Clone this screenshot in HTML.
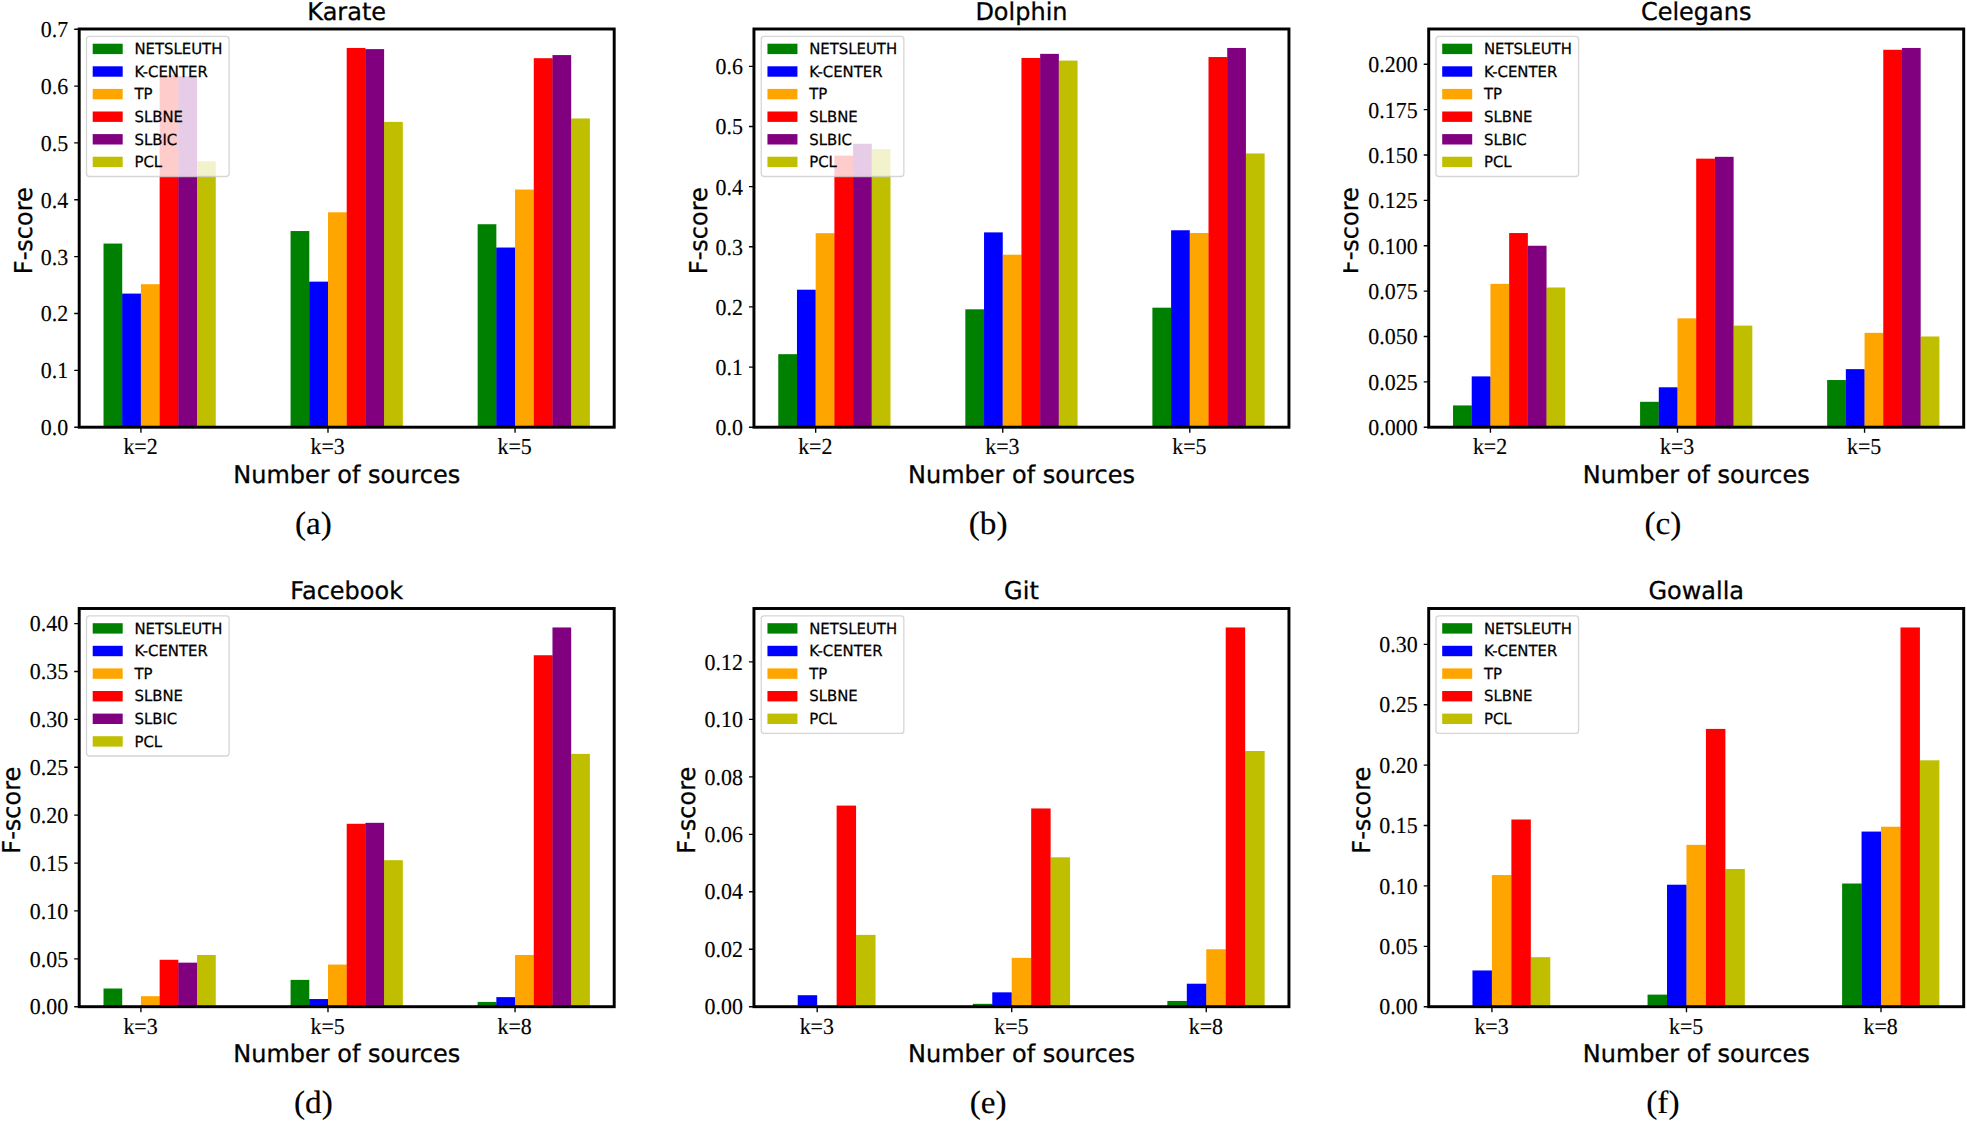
<!DOCTYPE html>
<html lang="en"><head><meta charset="utf-8"><title>F-score bar charts</title>
<style>html,body{margin:0;padding:0;background:#fff}body{width:1967px;height:1122px;overflow:hidden}svg{display:block}
.sans{font-family:"DejaVu Sans","Liberation Sans",sans-serif}.serif{font-family:"Liberation Serif","DejaVu Serif",serif}
.tk{font-size:22.5px}.lb{font-size:24.0px}.lg{font-size:15.0px}.sb{font-size:33.0px}text{stroke:#000}.tk text,text.sb{stroke-width:.15px}.lb text{stroke-width:.3px}.lg text{stroke-width:.25px}
</style></head><body>
<svg width="1967" height="1122" viewBox="0 0 1967 1122">
<rect width="1967" height="1122" fill="#fff"/>
<g id="chart-karate">
<g shape-rendering="auto">
<rect x="103.52" y="243.55" width="18.71" height="183.65" fill="#008000"/>
<rect x="122.02" y="294.19" width="0.6" height="133.01" fill="#008000"/>
<rect x="122.22" y="293.59" width="18.71" height="133.61" fill="#0000ff"/>
<rect x="140.73" y="294.19" width="0.6" height="133.01" fill="#0000ff"/>
<rect x="140.93" y="284.2" width="18.71" height="143" fill="#ffa500"/>
<rect x="159.44" y="284.8" width="0.6" height="142.4" fill="#ffa500"/>
<rect x="159.64" y="75.25" width="18.71" height="351.95" fill="#ff0000"/>
<rect x="178.14" y="76.99" width="0.6" height="350.21" fill="#ff0000"/>
<rect x="178.34" y="76.39" width="18.71" height="350.81" fill="#800080"/>
<rect x="196.85" y="161.88" width="0.6" height="265.32" fill="#800080"/>
<rect x="197.05" y="161.28" width="18.71" height="265.92" fill="#bfbf00"/>
<rect x="290.58" y="231.04" width="18.71" height="196.16" fill="#008000"/>
<rect x="309.09" y="282.25" width="0.6" height="144.95" fill="#008000"/>
<rect x="309.29" y="281.65" width="18.71" height="145.55" fill="#0000ff"/>
<rect x="327.79" y="282.25" width="0.6" height="144.95" fill="#0000ff"/>
<rect x="327.99" y="212.28" width="18.71" height="214.92" fill="#ffa500"/>
<rect x="346.5" y="212.88" width="0.6" height="214.32" fill="#ffa500"/>
<rect x="346.7" y="47.96" width="18.71" height="379.24" fill="#ff0000"/>
<rect x="365.21" y="49.7" width="0.6" height="377.5" fill="#ff0000"/>
<rect x="365.41" y="49.1" width="18.71" height="378.1" fill="#800080"/>
<rect x="383.91" y="122.48" width="0.6" height="304.72" fill="#800080"/>
<rect x="384.11" y="121.88" width="18.71" height="305.32" fill="#bfbf00"/>
<rect x="477.64" y="224.22" width="18.71" height="202.98" fill="#008000"/>
<rect x="496.15" y="248.13" width="0.6" height="179.07" fill="#008000"/>
<rect x="496.35" y="247.53" width="18.71" height="179.67" fill="#0000ff"/>
<rect x="514.86" y="248.13" width="0.6" height="179.07" fill="#0000ff"/>
<rect x="515.06" y="189.54" width="18.71" height="237.66" fill="#ffa500"/>
<rect x="533.56" y="190.14" width="0.6" height="237.06" fill="#ffa500"/>
<rect x="533.76" y="58.2" width="18.71" height="369" fill="#ff0000"/>
<rect x="552.27" y="58.8" width="0.6" height="368.4" fill="#ff0000"/>
<rect x="552.47" y="55.07" width="18.71" height="372.13" fill="#800080"/>
<rect x="570.98" y="119.06" width="0.6" height="308.14" fill="#800080"/>
<rect x="571.18" y="118.46" width="18.71" height="308.74" fill="#bfbf00"/>
</g>
<path d="M79.2 427.2h-5M79.2 370.34h-5M79.2 313.49h-5M79.2 256.63h-5M79.2 199.77h-5M79.2 142.91h-5M79.2 86.06h-5M79.2 29.2h-5M140.93 427.2v5.6M327.99 427.2v5.6M515.06 427.2v5.6" stroke="#000" stroke-width="1.35" fill="none"/>
<rect x="79.2" y="29" width="535" height="398.2" fill="none" stroke="#000" stroke-width="2.95"/>
<g class="serif tk" text-anchor="end">
<text transform="translate(68.2 435.2) skewX(0.05) scale(0.975 1.02)">0.0</text>
<text transform="translate(68.2 378.34) skewX(0.05) scale(0.975 1.02)">0.1</text>
<text transform="translate(68.2 321.49) skewX(0.05) scale(0.975 1.02)">0.2</text>
<text transform="translate(68.2 264.63) skewX(0.05) scale(0.975 1.02)">0.3</text>
<text transform="translate(68.2 207.77) skewX(0.05) scale(0.975 1.02)">0.4</text>
<text transform="translate(68.2 150.91) skewX(0.05) scale(0.975 1.02)">0.5</text>
<text transform="translate(68.2 94.06) skewX(0.05) scale(0.975 1.02)">0.6</text>
<text transform="translate(68.2 37.2) skewX(0.05) scale(0.975 1.02)">0.7</text>
</g>
<g class="serif tk" text-anchor="middle">
<text transform="translate(140.53 453.6) skewX(0.05) scale(0.975 1.02)">k=2</text>
<text transform="translate(327.59 453.6) skewX(0.05) scale(0.975 1.02)">k=3</text>
<text transform="translate(514.66 453.6) skewX(0.05) scale(0.975 1.02)">k=5</text>
</g>
<g class="sans lb" text-anchor="middle">
<text transform="translate(346.7 19.85) skewX(0.05) scale(1.0 1.02)">Karate</text>
<text transform="translate(346.7 482.5) skewX(0.05) scale(1.0 1.02)">Number of sources</text>
<g><text transform="translate(32 230.7) rotate(-90) skewX(0.05) scale(1.0 1.02)">F-score</text></g>
</g>
<text class="serif sb" text-anchor="middle" transform="translate(313.4 533.8) skewX(0.05) scale(1.01 0.98)">(a)</text>
<rect x="86.5" y="36.4" width="142.6" height="140.1" rx="3" ry="3" fill="#fff" fill-opacity="0.8" stroke="#ccc" stroke-opacity="0.8" stroke-width="1.3"/>
<g class="sans lg">
<rect x="92.7" y="43.7" width="30" height="10.4" fill="#008000"/>
<text transform="translate(134.5 54.1) skewX(0.05) scale(0.992 1.02)">NETSLEUTH</text>
<rect x="92.7" y="66.3" width="30" height="10.4" fill="#0000ff"/>
<text transform="translate(134.5 76.7) skewX(0.05) scale(0.992 1.02)">K-CENTER</text>
<rect x="92.7" y="88.9" width="30" height="10.4" fill="#ffa500"/>
<text transform="translate(134.5 99.3) skewX(0.05) scale(0.992 1.02)">TP</text>
<rect x="92.7" y="111.5" width="30" height="10.4" fill="#ff0000"/>
<text transform="translate(134.5 121.9) skewX(0.05) scale(0.992 1.02)">SLBNE</text>
<rect x="92.7" y="134.1" width="30" height="10.4" fill="#800080"/>
<text transform="translate(134.5 144.5) skewX(0.05) scale(0.992 1.02)">SLBIC</text>
<rect x="92.7" y="156.7" width="30" height="10.4" fill="#bfbf00"/>
<text transform="translate(134.5 167.1) skewX(0.05) scale(0.992 1.02)">PCL</text>
</g>
</g>
<g id="chart-dolphin">
<g shape-rendering="auto">
<rect x="778.27" y="354.18" width="18.71" height="73.02" fill="#008000"/>
<rect x="796.77" y="354.78" width="0.6" height="72.42" fill="#008000"/>
<rect x="796.97" y="289.7" width="18.71" height="137.5" fill="#0000ff"/>
<rect x="815.48" y="290.3" width="0.6" height="136.9" fill="#0000ff"/>
<rect x="815.68" y="233.16" width="18.71" height="194.04" fill="#ffa500"/>
<rect x="834.19" y="233.76" width="0.6" height="193.44" fill="#ffa500"/>
<rect x="834.39" y="155.63" width="18.71" height="271.57" fill="#ff0000"/>
<rect x="852.89" y="156.23" width="0.6" height="270.97" fill="#ff0000"/>
<rect x="853.09" y="143.72" width="18.71" height="283.48" fill="#800080"/>
<rect x="871.6" y="149.61" width="0.6" height="277.59" fill="#800080"/>
<rect x="871.8" y="149.01" width="18.71" height="278.19" fill="#bfbf00"/>
<rect x="965.33" y="309.31" width="18.71" height="117.89" fill="#008000"/>
<rect x="983.84" y="309.91" width="0.6" height="117.29" fill="#008000"/>
<rect x="984.04" y="232.38" width="18.71" height="194.82" fill="#0000ff"/>
<rect x="1002.54" y="255.29" width="0.6" height="171.91" fill="#0000ff"/>
<rect x="1002.74" y="254.69" width="18.71" height="172.51" fill="#ffa500"/>
<rect x="1021.25" y="255.29" width="0.6" height="171.91" fill="#ffa500"/>
<rect x="1021.45" y="57.95" width="18.71" height="369.25" fill="#ff0000"/>
<rect x="1039.96" y="58.55" width="0.6" height="368.65" fill="#ff0000"/>
<rect x="1040.16" y="53.86" width="18.71" height="373.34" fill="#800080"/>
<rect x="1058.66" y="61.19" width="0.6" height="366.01" fill="#800080"/>
<rect x="1058.86" y="60.59" width="18.71" height="366.61" fill="#bfbf00"/>
<rect x="1152.39" y="307.68" width="18.71" height="119.52" fill="#008000"/>
<rect x="1170.9" y="308.28" width="0.6" height="118.92" fill="#008000"/>
<rect x="1171.1" y="230.27" width="18.71" height="196.93" fill="#0000ff"/>
<rect x="1189.61" y="233.58" width="0.6" height="193.62" fill="#0000ff"/>
<rect x="1189.81" y="232.98" width="18.71" height="194.22" fill="#ffa500"/>
<rect x="1208.31" y="233.58" width="0.6" height="193.62" fill="#ffa500"/>
<rect x="1208.51" y="57.04" width="18.71" height="370.16" fill="#ff0000"/>
<rect x="1227.02" y="57.64" width="0.6" height="369.56" fill="#ff0000"/>
<rect x="1227.22" y="47.96" width="18.71" height="379.24" fill="#800080"/>
<rect x="1245.73" y="154.06" width="0.6" height="273.14" fill="#800080"/>
<rect x="1245.93" y="153.46" width="18.71" height="273.74" fill="#bfbf00"/>
</g>
<path d="M753.95 427.2h-5M753.95 367.05h-5M753.95 306.9h-5M753.95 246.75h-5M753.95 186.6h-5M753.95 126.46h-5M753.95 66.31h-5M815.68 427.2v5.6M1002.74 427.2v5.6M1189.81 427.2v5.6" stroke="#000" stroke-width="1.35" fill="none"/>
<rect x="753.95" y="29" width="535" height="398.2" fill="none" stroke="#000" stroke-width="2.95"/>
<g class="serif tk" text-anchor="end">
<text transform="translate(742.95 435.2) skewX(0.05) scale(0.975 1.02)">0.0</text>
<text transform="translate(742.95 375.05) skewX(0.05) scale(0.975 1.02)">0.1</text>
<text transform="translate(742.95 314.9) skewX(0.05) scale(0.975 1.02)">0.2</text>
<text transform="translate(742.95 254.75) skewX(0.05) scale(0.975 1.02)">0.3</text>
<text transform="translate(742.95 194.6) skewX(0.05) scale(0.975 1.02)">0.4</text>
<text transform="translate(742.95 134.46) skewX(0.05) scale(0.975 1.02)">0.5</text>
<text transform="translate(742.95 74.31) skewX(0.05) scale(0.975 1.02)">0.6</text>
</g>
<g class="serif tk" text-anchor="middle">
<text transform="translate(815.28 453.6) skewX(0.05) scale(0.975 1.02)">k=2</text>
<text transform="translate(1002.34 453.6) skewX(0.05) scale(0.975 1.02)">k=3</text>
<text transform="translate(1189.41 453.6) skewX(0.05) scale(0.975 1.02)">k=5</text>
</g>
<g class="sans lb" text-anchor="middle">
<text transform="translate(1021.45 19.85) skewX(0.05) scale(1.0 1.02)">Dolphin</text>
<text transform="translate(1021.45 482.5) skewX(0.05) scale(1.0 1.02)">Number of sources</text>
<g><text transform="translate(706.75 230.7) rotate(-90) skewX(0.05) scale(1.0 1.02)">F-score</text></g>
</g>
<text class="serif sb" text-anchor="middle" transform="translate(988.15 533.8) skewX(0.05) scale(1.01 0.98)">(b)</text>
<rect x="761.25" y="36.4" width="142.6" height="140.1" rx="3" ry="3" fill="#fff" fill-opacity="0.8" stroke="#ccc" stroke-opacity="0.8" stroke-width="1.3"/>
<g class="sans lg">
<rect x="767.45" y="43.7" width="30" height="10.4" fill="#008000"/>
<text transform="translate(809.25 54.1) skewX(0.05) scale(0.992 1.02)">NETSLEUTH</text>
<rect x="767.45" y="66.3" width="30" height="10.4" fill="#0000ff"/>
<text transform="translate(809.25 76.7) skewX(0.05) scale(0.992 1.02)">K-CENTER</text>
<rect x="767.45" y="88.9" width="30" height="10.4" fill="#ffa500"/>
<text transform="translate(809.25 99.3) skewX(0.05) scale(0.992 1.02)">TP</text>
<rect x="767.45" y="111.5" width="30" height="10.4" fill="#ff0000"/>
<text transform="translate(809.25 121.9) skewX(0.05) scale(0.992 1.02)">SLBNE</text>
<rect x="767.45" y="134.1" width="30" height="10.4" fill="#800080"/>
<text transform="translate(809.25 144.5) skewX(0.05) scale(0.992 1.02)">SLBIC</text>
<rect x="767.45" y="156.7" width="30" height="10.4" fill="#bfbf00"/>
<text transform="translate(809.25 167.1) skewX(0.05) scale(0.992 1.02)">PCL</text>
</g>
</g>
<g id="chart-celegans">
<g shape-rendering="auto">
<rect x="1453.02" y="405.43" width="18.71" height="21.77" fill="#008000"/>
<rect x="1471.52" y="406.03" width="0.6" height="21.17" fill="#008000"/>
<rect x="1471.72" y="376.39" width="18.71" height="50.81" fill="#0000ff"/>
<rect x="1490.23" y="376.99" width="0.6" height="50.21" fill="#0000ff"/>
<rect x="1490.43" y="283.85" width="18.71" height="143.35" fill="#ffa500"/>
<rect x="1508.94" y="284.45" width="0.6" height="142.75" fill="#ffa500"/>
<rect x="1509.14" y="233.04" width="18.71" height="194.16" fill="#ff0000"/>
<rect x="1527.64" y="246.35" width="0.6" height="180.85" fill="#ff0000"/>
<rect x="1527.84" y="245.75" width="18.71" height="181.45" fill="#800080"/>
<rect x="1546.35" y="288.08" width="0.6" height="139.12" fill="#800080"/>
<rect x="1546.55" y="287.48" width="18.71" height="139.72" fill="#bfbf00"/>
<rect x="1640.08" y="401.8" width="18.71" height="25.4" fill="#008000"/>
<rect x="1658.59" y="402.4" width="0.6" height="24.8" fill="#008000"/>
<rect x="1658.79" y="387.28" width="18.71" height="39.92" fill="#0000ff"/>
<rect x="1677.29" y="387.88" width="0.6" height="39.32" fill="#0000ff"/>
<rect x="1677.49" y="318.33" width="18.71" height="108.87" fill="#ffa500"/>
<rect x="1696" y="318.93" width="0.6" height="108.27" fill="#ffa500"/>
<rect x="1696.2" y="158.65" width="18.71" height="268.55" fill="#ff0000"/>
<rect x="1714.71" y="159.25" width="0.6" height="267.95" fill="#ff0000"/>
<rect x="1714.91" y="156.83" width="18.71" height="270.37" fill="#800080"/>
<rect x="1733.41" y="326.19" width="0.6" height="101.01" fill="#800080"/>
<rect x="1733.61" y="325.59" width="18.71" height="101.61" fill="#bfbf00"/>
<rect x="1827.14" y="380.02" width="18.71" height="47.18" fill="#008000"/>
<rect x="1845.65" y="380.62" width="0.6" height="46.58" fill="#008000"/>
<rect x="1845.85" y="369.13" width="18.71" height="58.07" fill="#0000ff"/>
<rect x="1864.36" y="369.73" width="0.6" height="57.47" fill="#0000ff"/>
<rect x="1864.56" y="332.84" width="18.71" height="94.36" fill="#ffa500"/>
<rect x="1883.06" y="333.44" width="0.6" height="93.76" fill="#ffa500"/>
<rect x="1883.26" y="49.78" width="18.71" height="377.42" fill="#ff0000"/>
<rect x="1901.77" y="50.38" width="0.6" height="376.82" fill="#ff0000"/>
<rect x="1901.97" y="47.96" width="18.71" height="379.24" fill="#800080"/>
<rect x="1920.48" y="337.07" width="0.6" height="90.13" fill="#800080"/>
<rect x="1920.68" y="336.47" width="18.71" height="90.73" fill="#bfbf00"/>
</g>
<path d="M1428.7 427.2h-5M1428.7 381.84h-5M1428.7 336.47h-5M1428.7 291.11h-5M1428.7 245.75h-5M1428.7 200.38h-5M1428.7 155.02h-5M1428.7 109.66h-5M1428.7 64.29h-5M1490.43 427.2v5.6M1677.49 427.2v5.6M1864.56 427.2v5.6" stroke="#000" stroke-width="1.35" fill="none"/>
<rect x="1428.7" y="29" width="535" height="398.2" fill="none" stroke="#000" stroke-width="2.95"/>
<g class="serif tk" text-anchor="end">
<text transform="translate(1417.7 435.2) skewX(0.05) scale(0.975 1.02)">0.000</text>
<text transform="translate(1417.7 389.84) skewX(0.05) scale(0.975 1.02)">0.025</text>
<text transform="translate(1417.7 344.47) skewX(0.05) scale(0.975 1.02)">0.050</text>
<text transform="translate(1417.7 299.11) skewX(0.05) scale(0.975 1.02)">0.075</text>
<text transform="translate(1417.7 253.75) skewX(0.05) scale(0.975 1.02)">0.100</text>
<text transform="translate(1417.7 208.38) skewX(0.05) scale(0.975 1.02)">0.125</text>
<text transform="translate(1417.7 163.02) skewX(0.05) scale(0.975 1.02)">0.150</text>
<text transform="translate(1417.7 117.66) skewX(0.05) scale(0.975 1.02)">0.175</text>
<text transform="translate(1417.7 72.29) skewX(0.05) scale(0.975 1.02)">0.200</text>
</g>
<g class="serif tk" text-anchor="middle">
<text transform="translate(1490.03 453.6) skewX(0.05) scale(0.975 1.02)">k=2</text>
<text transform="translate(1677.09 453.6) skewX(0.05) scale(0.975 1.02)">k=3</text>
<text transform="translate(1864.16 453.6) skewX(0.05) scale(0.975 1.02)">k=5</text>
</g>
<g class="sans lb" text-anchor="middle">
<text transform="translate(1696.2 19.85) skewX(0.05) scale(1.0 1.02)">Celegans</text>
<text transform="translate(1696.2 482.5) skewX(0.05) scale(1.0 1.02)">Number of sources</text>
<clipPath id="cl2"><rect x="1343.3" y="29" width="60" height="398.2"/></clipPath>
<g clip-path="url(#cl2)"><text transform="translate(1358.2 230.7) rotate(-90) skewX(0.05) scale(1.0 1.02)">F-score</text></g>
</g>
<text class="serif sb" text-anchor="middle" transform="translate(1662.9 533.8) skewX(0.05) scale(1.01 0.98)">(c)</text>
<rect x="1436" y="36.4" width="142.6" height="140.1" rx="3" ry="3" fill="#fff" fill-opacity="0.8" stroke="#ccc" stroke-opacity="0.8" stroke-width="1.3"/>
<g class="sans lg">
<rect x="1442.2" y="43.7" width="30" height="10.4" fill="#008000"/>
<text transform="translate(1484 54.1) skewX(0.05) scale(0.992 1.02)">NETSLEUTH</text>
<rect x="1442.2" y="66.3" width="30" height="10.4" fill="#0000ff"/>
<text transform="translate(1484 76.7) skewX(0.05) scale(0.992 1.02)">K-CENTER</text>
<rect x="1442.2" y="88.9" width="30" height="10.4" fill="#ffa500"/>
<text transform="translate(1484 99.3) skewX(0.05) scale(0.992 1.02)">TP</text>
<rect x="1442.2" y="111.5" width="30" height="10.4" fill="#ff0000"/>
<text transform="translate(1484 121.9) skewX(0.05) scale(0.992 1.02)">SLBNE</text>
<rect x="1442.2" y="134.1" width="30" height="10.4" fill="#800080"/>
<text transform="translate(1484 144.5) skewX(0.05) scale(0.992 1.02)">SLBIC</text>
<rect x="1442.2" y="156.7" width="30" height="10.4" fill="#bfbf00"/>
<text transform="translate(1484 167.1) skewX(0.05) scale(0.992 1.02)">PCL</text>
</g>
</g>
<g id="chart-facebook">
<g shape-rendering="auto">
<rect x="103.52" y="988.5" width="18.71" height="18.2" fill="#008000"/>
<rect x="140.93" y="996.17" width="18.71" height="10.53" fill="#ffa500"/>
<rect x="159.44" y="996.77" width="0.6" height="9.93" fill="#ffa500"/>
<rect x="159.64" y="959.77" width="18.71" height="46.93" fill="#ff0000"/>
<rect x="178.14" y="963.25" width="0.6" height="43.45" fill="#ff0000"/>
<rect x="178.34" y="962.65" width="18.71" height="44.05" fill="#800080"/>
<rect x="196.85" y="963.25" width="0.6" height="43.45" fill="#800080"/>
<rect x="197.05" y="954.99" width="18.71" height="51.71" fill="#bfbf00"/>
<rect x="290.58" y="979.89" width="18.71" height="26.81" fill="#008000"/>
<rect x="309.09" y="999.64" width="0.6" height="7.06" fill="#008000"/>
<rect x="309.29" y="999.04" width="18.71" height="7.66" fill="#0000ff"/>
<rect x="327.79" y="999.64" width="0.6" height="7.06" fill="#0000ff"/>
<rect x="327.99" y="964.56" width="18.71" height="42.14" fill="#ffa500"/>
<rect x="346.5" y="965.16" width="0.6" height="41.54" fill="#ffa500"/>
<rect x="346.7" y="823.78" width="18.71" height="182.92" fill="#ff0000"/>
<rect x="365.21" y="824.38" width="0.6" height="182.32" fill="#ff0000"/>
<rect x="365.41" y="822.83" width="18.71" height="183.87" fill="#800080"/>
<rect x="383.91" y="860.78" width="0.6" height="145.92" fill="#800080"/>
<rect x="384.11" y="860.18" width="18.71" height="146.52" fill="#bfbf00"/>
<rect x="477.64" y="1001.91" width="18.71" height="4.79" fill="#008000"/>
<rect x="496.15" y="1002.51" width="0.6" height="4.19" fill="#008000"/>
<rect x="496.35" y="997.12" width="18.71" height="9.58" fill="#0000ff"/>
<rect x="514.86" y="997.72" width="0.6" height="8.98" fill="#0000ff"/>
<rect x="515.06" y="954.99" width="18.71" height="51.71" fill="#ffa500"/>
<rect x="533.56" y="955.59" width="0.6" height="51.11" fill="#ffa500"/>
<rect x="533.76" y="655.23" width="18.71" height="351.47" fill="#ff0000"/>
<rect x="552.27" y="655.83" width="0.6" height="350.87" fill="#ff0000"/>
<rect x="552.47" y="627.46" width="18.71" height="379.24" fill="#800080"/>
<rect x="570.98" y="754.47" width="0.6" height="252.23" fill="#800080"/>
<rect x="571.18" y="753.87" width="18.71" height="252.83" fill="#bfbf00"/>
</g>
<path d="M79.2 1006.7h-5M79.2 958.82h-5M79.2 910.93h-5M79.2 863.05h-5M79.2 815.17h-5M79.2 767.28h-5M79.2 719.4h-5M79.2 671.51h-5M79.2 623.63h-5M140.93 1006.7v5.6M327.99 1006.7v5.6M515.06 1006.7v5.6" stroke="#000" stroke-width="1.35" fill="none"/>
<rect x="79.2" y="608.5" width="535" height="398.2" fill="none" stroke="#000" stroke-width="2.95"/>
<g class="serif tk" text-anchor="end">
<text transform="translate(68.2 1014.4) skewX(0.05) scale(0.975 1.02)">0.00</text>
<text transform="translate(68.2 966.52) skewX(0.05) scale(0.975 1.02)">0.05</text>
<text transform="translate(68.2 918.63) skewX(0.05) scale(0.975 1.02)">0.10</text>
<text transform="translate(68.2 870.75) skewX(0.05) scale(0.975 1.02)">0.15</text>
<text transform="translate(68.2 822.87) skewX(0.05) scale(0.975 1.02)">0.20</text>
<text transform="translate(68.2 774.98) skewX(0.05) scale(0.975 1.02)">0.25</text>
<text transform="translate(68.2 727.1) skewX(0.05) scale(0.975 1.02)">0.30</text>
<text transform="translate(68.2 679.21) skewX(0.05) scale(0.975 1.02)">0.35</text>
<text transform="translate(68.2 631.33) skewX(0.05) scale(0.975 1.02)">0.40</text>
</g>
<g class="serif tk" text-anchor="middle">
<text transform="translate(140.53 1033.8) skewX(0.05) scale(0.975 1.02)">k=3</text>
<text transform="translate(327.59 1033.8) skewX(0.05) scale(0.975 1.02)">k=5</text>
<text transform="translate(514.66 1033.8) skewX(0.05) scale(0.975 1.02)">k=8</text>
</g>
<g class="sans lb" text-anchor="middle">
<text transform="translate(346.7 599.35) skewX(0.05) scale(1.0 1.02)">Facebook</text>
<text transform="translate(346.7 1062.35) skewX(0.05) scale(1.0 1.02)">Number of sources</text>
<g><text transform="translate(20.2 810.2) rotate(-90) skewX(0.05) scale(1.0 1.02)">F-score</text></g>
</g>
<text class="serif sb" text-anchor="middle" transform="translate(313.4 1113.3) skewX(0.05) scale(1.01 0.98)">(d)</text>
<rect x="86.5" y="615.9" width="142.6" height="140.1" rx="3" ry="3" fill="#fff" fill-opacity="0.8" stroke="#ccc" stroke-opacity="0.8" stroke-width="1.3"/>
<g class="sans lg">
<rect x="92.7" y="623.2" width="30" height="10.4" fill="#008000"/>
<text transform="translate(134.5 633.6) skewX(0.05) scale(0.992 1.02)">NETSLEUTH</text>
<rect x="92.7" y="645.8" width="30" height="10.4" fill="#0000ff"/>
<text transform="translate(134.5 656.2) skewX(0.05) scale(0.992 1.02)">K-CENTER</text>
<rect x="92.7" y="668.4" width="30" height="10.4" fill="#ffa500"/>
<text transform="translate(134.5 678.8) skewX(0.05) scale(0.992 1.02)">TP</text>
<rect x="92.7" y="691" width="30" height="10.4" fill="#ff0000"/>
<text transform="translate(134.5 701.4) skewX(0.05) scale(0.992 1.02)">SLBNE</text>
<rect x="92.7" y="713.6" width="30" height="10.4" fill="#800080"/>
<text transform="translate(134.5 724) skewX(0.05) scale(0.992 1.02)">SLBIC</text>
<rect x="92.7" y="736.2" width="30" height="10.4" fill="#bfbf00"/>
<text transform="translate(134.5 746.6) skewX(0.05) scale(0.992 1.02)">PCL</text>
</g>
</g>
<g id="chart-git">
<g shape-rendering="auto">
<rect x="797.72" y="995.21" width="19.45" height="11.49" fill="#0000ff"/>
<rect x="836.63" y="805.59" width="19.45" height="201.11" fill="#ff0000"/>
<rect x="855.89" y="935.47" width="0.6" height="71.23" fill="#ff0000"/>
<rect x="856.09" y="934.87" width="19.45" height="71.83" fill="#bfbf00"/>
<rect x="972.81" y="1003.83" width="19.45" height="2.87" fill="#008000"/>
<rect x="992.07" y="1004.43" width="0.6" height="2.27" fill="#008000"/>
<rect x="992.27" y="992.33" width="19.45" height="14.37" fill="#0000ff"/>
<rect x="1011.52" y="992.93" width="0.6" height="13.77" fill="#0000ff"/>
<rect x="1011.72" y="957.86" width="19.45" height="48.84" fill="#ffa500"/>
<rect x="1030.98" y="958.46" width="0.6" height="48.24" fill="#ffa500"/>
<rect x="1031.18" y="808.46" width="19.45" height="198.24" fill="#ff0000"/>
<rect x="1050.43" y="857.9" width="0.6" height="148.8" fill="#ff0000"/>
<rect x="1050.63" y="857.3" width="19.45" height="149.4" fill="#bfbf00"/>
<rect x="1167.36" y="1000.95" width="19.45" height="5.75" fill="#008000"/>
<rect x="1186.61" y="1001.55" width="0.6" height="5.15" fill="#008000"/>
<rect x="1186.81" y="983.72" width="19.45" height="22.98" fill="#0000ff"/>
<rect x="1206.07" y="984.32" width="0.6" height="22.38" fill="#0000ff"/>
<rect x="1206.27" y="949.24" width="19.45" height="57.46" fill="#ffa500"/>
<rect x="1225.52" y="949.84" width="0.6" height="56.86" fill="#ffa500"/>
<rect x="1225.72" y="627.46" width="19.45" height="379.24" fill="#ff0000"/>
<rect x="1244.98" y="751.6" width="0.6" height="255.1" fill="#ff0000"/>
<rect x="1245.18" y="751" width="19.45" height="255.7" fill="#bfbf00"/>
</g>
<path d="M753.95 1006.7h-5M753.95 949.24h-5M753.95 891.78h-5M753.95 834.32h-5M753.95 776.86h-5M753.95 719.4h-5M753.95 661.94h-5M817.18 1006.7v5.6M1011.72 1006.7v5.6M1206.27 1006.7v5.6" stroke="#000" stroke-width="1.35" fill="none"/>
<rect x="753.95" y="608.5" width="535" height="398.2" fill="none" stroke="#000" stroke-width="2.95"/>
<g class="serif tk" text-anchor="end">
<text transform="translate(742.95 1014.4) skewX(0.05) scale(0.975 1.02)">0.00</text>
<text transform="translate(742.95 956.94) skewX(0.05) scale(0.975 1.02)">0.02</text>
<text transform="translate(742.95 899.48) skewX(0.05) scale(0.975 1.02)">0.04</text>
<text transform="translate(742.95 842.02) skewX(0.05) scale(0.975 1.02)">0.06</text>
<text transform="translate(742.95 784.56) skewX(0.05) scale(0.975 1.02)">0.08</text>
<text transform="translate(742.95 727.1) skewX(0.05) scale(0.975 1.02)">0.10</text>
<text transform="translate(742.95 669.64) skewX(0.05) scale(0.975 1.02)">0.12</text>
</g>
<g class="serif tk" text-anchor="middle">
<text transform="translate(816.78 1033.8) skewX(0.05) scale(0.975 1.02)">k=3</text>
<text transform="translate(1011.32 1033.8) skewX(0.05) scale(0.975 1.02)">k=5</text>
<text transform="translate(1205.87 1033.8) skewX(0.05) scale(0.975 1.02)">k=8</text>
</g>
<g class="sans lb" text-anchor="middle">
<text transform="translate(1021.45 599.35) skewX(0.05) scale(1.0 1.02)">Git</text>
<text transform="translate(1021.45 1062.35) skewX(0.05) scale(1.0 1.02)">Number of sources</text>
<g><text transform="translate(694.95 810.2) rotate(-90) skewX(0.05) scale(1.0 1.02)">F-score</text></g>
</g>
<text class="serif sb" text-anchor="middle" transform="translate(988.15 1113.3) skewX(0.05) scale(1.01 0.98)">(e)</text>
<rect x="761.25" y="615.9" width="142.6" height="117.5" rx="3" ry="3" fill="#fff" fill-opacity="0.8" stroke="#ccc" stroke-opacity="0.8" stroke-width="1.3"/>
<g class="sans lg">
<rect x="767.45" y="623.2" width="30" height="10.4" fill="#008000"/>
<text transform="translate(809.25 633.6) skewX(0.05) scale(0.992 1.02)">NETSLEUTH</text>
<rect x="767.45" y="645.8" width="30" height="10.4" fill="#0000ff"/>
<text transform="translate(809.25 656.2) skewX(0.05) scale(0.992 1.02)">K-CENTER</text>
<rect x="767.45" y="668.4" width="30" height="10.4" fill="#ffa500"/>
<text transform="translate(809.25 678.8) skewX(0.05) scale(0.992 1.02)">TP</text>
<rect x="767.45" y="691" width="30" height="10.4" fill="#ff0000"/>
<text transform="translate(809.25 701.4) skewX(0.05) scale(0.992 1.02)">SLBNE</text>
<rect x="767.45" y="713.6" width="30" height="10.4" fill="#bfbf00"/>
<text transform="translate(809.25 724) skewX(0.05) scale(0.992 1.02)">PCL</text>
</g>
</g>
<g id="chart-gowalla">
<g shape-rendering="auto">
<rect x="1472.47" y="970.47" width="19.45" height="36.23" fill="#0000ff"/>
<rect x="1491.73" y="971.07" width="0.6" height="35.63" fill="#0000ff"/>
<rect x="1491.93" y="875.05" width="19.45" height="131.65" fill="#ffa500"/>
<rect x="1511.18" y="875.65" width="0.6" height="131.05" fill="#ffa500"/>
<rect x="1511.38" y="819.5" width="19.45" height="187.2" fill="#ff0000"/>
<rect x="1530.64" y="957.78" width="0.6" height="48.92" fill="#ff0000"/>
<rect x="1530.84" y="957.18" width="19.45" height="49.52" fill="#bfbf00"/>
<rect x="1647.56" y="994.62" width="19.45" height="12.08" fill="#008000"/>
<rect x="1666.82" y="995.22" width="0.6" height="11.48" fill="#008000"/>
<rect x="1667.02" y="884.72" width="19.45" height="121.98" fill="#0000ff"/>
<rect x="1686.27" y="885.32" width="0.6" height="121.38" fill="#0000ff"/>
<rect x="1686.47" y="844.86" width="19.45" height="161.84" fill="#ffa500"/>
<rect x="1705.73" y="845.46" width="0.6" height="161.24" fill="#ffa500"/>
<rect x="1705.93" y="728.91" width="19.45" height="277.79" fill="#ff0000"/>
<rect x="1725.18" y="869.61" width="0.6" height="137.09" fill="#ff0000"/>
<rect x="1725.38" y="869.01" width="19.45" height="137.69" fill="#bfbf00"/>
<rect x="1842.11" y="883.51" width="19.45" height="123.19" fill="#008000"/>
<rect x="1861.36" y="884.11" width="0.6" height="122.59" fill="#008000"/>
<rect x="1861.56" y="831.57" width="19.45" height="175.13" fill="#0000ff"/>
<rect x="1880.82" y="832.17" width="0.6" height="174.53" fill="#0000ff"/>
<rect x="1881.02" y="826.74" width="19.45" height="179.96" fill="#ffa500"/>
<rect x="1900.27" y="827.34" width="0.6" height="179.36" fill="#ffa500"/>
<rect x="1900.47" y="627.46" width="19.45" height="379.24" fill="#ff0000"/>
<rect x="1919.73" y="760.92" width="0.6" height="245.78" fill="#ff0000"/>
<rect x="1919.93" y="760.32" width="19.45" height="246.38" fill="#bfbf00"/>
</g>
<path d="M1428.7 1006.7h-5M1428.7 946.31h-5M1428.7 885.92h-5M1428.7 825.54h-5M1428.7 765.15h-5M1428.7 704.76h-5M1428.7 644.37h-5M1491.93 1006.7v5.6M1686.47 1006.7v5.6M1881.02 1006.7v5.6" stroke="#000" stroke-width="1.35" fill="none"/>
<rect x="1428.7" y="608.5" width="535" height="398.2" fill="none" stroke="#000" stroke-width="2.95"/>
<g class="serif tk" text-anchor="end">
<text transform="translate(1417.7 1014.4) skewX(0.05) scale(0.975 1.02)">0.00</text>
<text transform="translate(1417.7 954.01) skewX(0.05) scale(0.975 1.02)">0.05</text>
<text transform="translate(1417.7 893.62) skewX(0.05) scale(0.975 1.02)">0.10</text>
<text transform="translate(1417.7 833.24) skewX(0.05) scale(0.975 1.02)">0.15</text>
<text transform="translate(1417.7 772.85) skewX(0.05) scale(0.975 1.02)">0.20</text>
<text transform="translate(1417.7 712.46) skewX(0.05) scale(0.975 1.02)">0.25</text>
<text transform="translate(1417.7 652.07) skewX(0.05) scale(0.975 1.02)">0.30</text>
</g>
<g class="serif tk" text-anchor="middle">
<text transform="translate(1491.53 1033.8) skewX(0.05) scale(0.975 1.02)">k=3</text>
<text transform="translate(1686.07 1033.8) skewX(0.05) scale(0.975 1.02)">k=5</text>
<text transform="translate(1880.62 1033.8) skewX(0.05) scale(0.975 1.02)">k=8</text>
</g>
<g class="sans lb" text-anchor="middle">
<text transform="translate(1696.2 599.35) skewX(0.05) scale(1.0 1.02)">Gowalla</text>
<text transform="translate(1696.2 1062.35) skewX(0.05) scale(1.0 1.02)">Number of sources</text>
<g><text transform="translate(1369.7 810.2) rotate(-90) skewX(0.05) scale(1.0 1.02)">F-score</text></g>
</g>
<text class="serif sb" text-anchor="middle" transform="translate(1662.9 1113.3) skewX(0.05) scale(1.01 0.98)">(f)</text>
<rect x="1436" y="615.9" width="142.6" height="117.5" rx="3" ry="3" fill="#fff" fill-opacity="0.8" stroke="#ccc" stroke-opacity="0.8" stroke-width="1.3"/>
<g class="sans lg">
<rect x="1442.2" y="623.2" width="30" height="10.4" fill="#008000"/>
<text transform="translate(1484 633.6) skewX(0.05) scale(0.992 1.02)">NETSLEUTH</text>
<rect x="1442.2" y="645.8" width="30" height="10.4" fill="#0000ff"/>
<text transform="translate(1484 656.2) skewX(0.05) scale(0.992 1.02)">K-CENTER</text>
<rect x="1442.2" y="668.4" width="30" height="10.4" fill="#ffa500"/>
<text transform="translate(1484 678.8) skewX(0.05) scale(0.992 1.02)">TP</text>
<rect x="1442.2" y="691" width="30" height="10.4" fill="#ff0000"/>
<text transform="translate(1484 701.4) skewX(0.05) scale(0.992 1.02)">SLBNE</text>
<rect x="1442.2" y="713.6" width="30" height="10.4" fill="#bfbf00"/>
<text transform="translate(1484 724) skewX(0.05) scale(0.992 1.02)">PCL</text>
</g>
</g>
</svg></body></html>
